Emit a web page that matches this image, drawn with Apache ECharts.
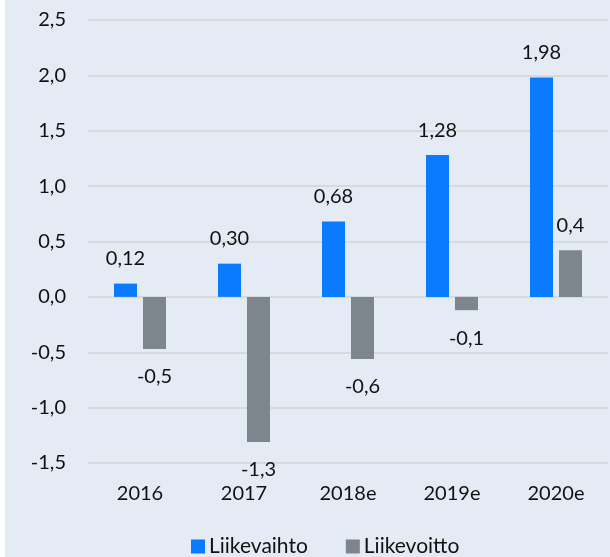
<!DOCTYPE html>
<html><head><meta charset="utf-8">
<script src="https://cdn.jsdelivr.net/npm/echarts@6/dist/echarts.min.js"></script>
<style>
html,body{margin:0;padding:0;background:#ffffff;}
#c{position:absolute;left:5px;top:0;width:605px;height:557px;background:#e5ebf5;}
</style></head>
<body><div id="c"></div>
<script>
const categories = ['2016','2017','2018e','2019e','2020e'];
const liikevaihto = [0.12, 0.30, 0.68, 1.28, 1.98];
const liikevoitto = [-0.47, -1.31, -0.56, -0.12, 0.42];
const seriesNames = ['Liikevaihto','Liikevoitto'];

const fmt = (v, d) => v.toFixed(d).replace('.', ',');
const FONT = 'Lato, "Open Sans", sans-serif';
const TXT = '#111111';
const chart = echarts.init(document.getElementById('c'));
chart.setOption({
  backgroundColor: '#e5ebf5',
  animation: false,
  textStyle: {fontFamily: FONT},
  grid: {left: 83, right: 2, top: 20, bottom: 94},
  legend: {
    top: 531, left: 181, itemWidth: 14, itemHeight: 14, itemGap: 38,
    icon: 'rect',
    textStyle: {fontSize: 21, color: TXT, fontFamily: FONT, padding: [0,0,0,-1]},
    data: seriesNames
  },
  xAxis: {
    type: 'category', data: categories,
    axisLine: {show: false}, axisTick: {show: false},
    axisLabel: {fontSize: 20, color: TXT, margin: 21, fontFamily: FONT}
  },
  yAxis: {
    type: 'value', min: -1.5, max: 2.5, interval: 0.5,
    axisLine: {show: false}, axisTick: {show: false},
    splitLine: {lineStyle: {color: '#d6d9dd', width: 2}},
    axisLabel: {fontSize: 20, color: TXT, margin: 22, fontFamily: FONT,
      formatter: v => fmt(v, 1)}
  },
  series: [
    {
      name: seriesNames[0], type: 'bar', data: liikevaihto,
      barWidth: 23, barGap: '26%',
      itemStyle: {color: '#0a7aff'},
      label: {show: true, position: 'top', distance: 15, fontSize: 20, color: TXT,
        fontFamily: FONT, formatter: p => fmt(p.value, 2)}
    },
    {
      name: seriesNames[1], type: 'bar', data: liikevoitto.map(v => ({
        value: v,
        label: {position: v < 0 ? 'bottom' : 'top', distance: v < 0 ? 18 : 15}
      })),
      barWidth: 23,
      itemStyle: {color: '#7d868c'},
      label: {show: true, fontSize: 20, color: TXT,
        fontFamily: FONT, formatter: p => fmt(p.value, 1)}
    }
  ]
});
</script></body></html>
